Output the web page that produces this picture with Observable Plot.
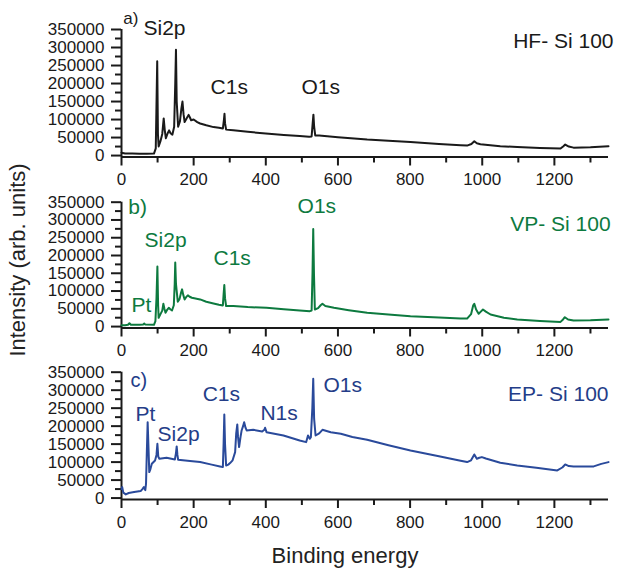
<!DOCTYPE html>
<html>
<head>
<meta charset="utf-8">
<script src="https://cdn.jsdelivr.net/npm/d3@7"></script>
<script src="https://cdn.jsdelivr.net/npm/@observablehq/plot@0.6"></script>
<style>
  body { margin: 0; background: #fff; font-family: "Liberation Sans", Arial, sans-serif; }
  #chart { position: relative; width: 617px; height: 569px; overflow: hidden; background: #fff; }
  .panel { position: absolute; left: 0; }
  .panel svg { overflow: visible; display: block; }
  #ylab { position: absolute; left: 18px; top: 260px; transform: translate(-50%, -50%) rotate(-90deg);
          white-space: nowrap; font-size: 22px; line-height: 1; color: #222; }
  #xlab { position: absolute; left: 345px; top: 545px; transform: translateX(-50%);
          white-space: nowrap; font-size: 22px; line-height: 1; color: #222; }
</style>
</head>
<body>
<div id="chart">
  <div id="ylab">Intensity (arb. units)</div>
  <div id="xlab">Binding energy</div>
</div>
<script>
// ---- data (binding energy eV, intensity counts) ----
const hfSpectrum = [
  [0, 8000], [10, 6000], [30, 5500], [50, 5000], [70, 5000], [90, 5500], [95, 20000], [99, 262000],
  [101, 60000], [103, 25000], [108, 40000], [113, 60000], [117, 103000], [120, 70000], [123, 48000],
  [128, 62000], [132, 70000], [136, 62000], [141, 58000], [146, 80000], [149, 200000], [151, 294000],
  [153, 150000], [157, 80000], [162, 95000], [166, 130000], [169, 150000], [172, 115000], [175, 93000],
  [180, 102000], [186, 113000], [190, 105000], [193, 98000], [200, 100000], [210, 93000], [218, 89000],
  [235, 84000], [255, 79000], [270, 77000], [281, 75000], [284, 100000], [285.5, 116000], [287, 90000],
  [290, 72000], [310, 70000], [350, 66000], [400, 61000], [450, 57000], [494, 54000], [520, 52000],
  [527, 53000], [530, 90000], [532, 113600], [534, 80000], [537, 56000], [548, 56000], [600, 51000],
  [681, 44300], [740, 41000], [801, 37700], [880, 32000], [940, 28500], [958, 27700], [970, 32000],
  [978, 39600], [985, 34000], [995, 31300], [1050, 26000], [1097, 23800], [1160, 21000], [1217, 19400],
  [1225, 26000], [1230, 30500], [1240, 25000], [1253, 22000], [1300, 23000], [1350, 25800]
];
const vpSpectrum = [
  [0, 4000], [10, 4000], [18, 5000], [22, 9400], [26, 5000], [50, 5000], [60, 6000], [63, 8500],
  [66, 5500], [90, 5000], [94, 15000], [97, 80000], [99.5, 169000], [101.5, 60000], [103, 24500],
  [108, 35000], [113, 45000], [116, 64000], [119, 50000], [122, 38700], [127, 48000], [131, 52800],
  [136, 48000], [140, 45300], [145, 60000], [147.5, 120000], [149, 180000], [151, 120000], [156, 69800],
  [161, 78000], [165, 95000], [168, 104700], [171, 90000], [175, 76400], [180, 84000], [184, 87800],
  [189, 84000], [195, 81100], [218, 76400], [235, 70000], [255, 65100], [270, 61500], [281, 59500],
  [283, 90000], [285, 117000], [287, 80000], [290, 57600], [310, 57600], [350, 55000], [402, 52800],
  [450, 49000], [494, 45300], [522, 43400], [527, 45300], [529.5, 150000], [531.5, 274600],
  [533.5, 150000], [536, 48100], [545, 52000], [552, 60000], [557, 64200], [565, 58000], [589, 52800],
  [630, 46000], [681, 38700], [740, 34000], [801, 29300], [880, 25500], [940, 23000], [958, 22600],
  [969, 35000], [975, 60000], [978, 64200], [983, 48000], [990, 35900], [996, 42000], [1002, 48100],
  [1010, 42000], [1023, 34000], [1060, 25000], [1097, 19800], [1160, 16000], [1217, 13200],
  [1224, 20000], [1229, 26400], [1238, 20000], [1253, 17000], [1300, 17500], [1350, 19800]
];
const epSpectrum = [
  [0, 25000], [2, 30500], [5, 15000], [12, 10200], [20, 14000], [35, 16700], [53, 19400], [58, 25000],
  [62, 30500], [66, 22000], [68, 40000], [70, 120000], [72.5, 211000], [74.5, 150000], [77, 72200],
  [80, 80000], [84, 95400], [93, 104600], [97, 120000], [99.5, 151000], [102, 115000], [105, 109300],
  [125, 112000], [148, 107400], [151, 125000], [153, 143500], [155, 120000], [157, 106500],
  [190, 103000], [218, 100000], [250, 93000], [273, 88000], [281, 86100], [283, 150000], [285, 232400],
  [287, 150000], [290, 90700], [296, 93000], [301, 97200], [308, 105000], [315, 127800], [318, 180000],
  [321, 204600], [323, 170000], [326, 141700], [330, 170000], [333, 188000], [337, 200000], [340, 211000],
  [344, 195000], [347, 188000], [365, 189800], [390, 185000], [396, 190000], [398, 195400], [402, 183300],
  [449, 174000], [494, 160200], [512, 155600], [517, 174000], [522, 164800], [525, 169400], [529, 250000],
  [531.5, 331500], [534, 220000], [538, 174000], [548, 180000], [557, 189800], [580, 183000], [608, 178700],
  [640, 170000], [681, 162000], [740, 147000], [801, 132400], [880, 116000], [940, 104000], [958, 100000],
  [969, 105000], [978, 121300], [985, 109300], [992, 112000], [999, 113900], [1010, 110000], [1050, 98000],
  [1097, 90700], [1150, 84000], [1208, 76800], [1222, 85000], [1230, 93500], [1240, 89000], [1253, 88000],
  [1309, 88000], [1330, 95000], [1350, 100000]
];

// peak / sample annotations: [text, energy, intensity]
const hfLabels = [["Si2p", 61, 336000], ["C1s", 247, 172000], ["O1s", 499, 172000]];
const vpLabels = [["Pt", 28, 42000], ["Si2p", 64, 225000], ["C1s", 255, 172000], ["O1s", 488, 321000]];
const epLabels = [["Pt", 39, 213000], ["Si2p", 100, 160000], ["C1s", 225, 271000], ["N1s", 385, 216000], ["O1s", 560, 294000]];
const sampleNames = ["HF- Si 100", "VP- Si 100", "EP- Si 100"];
const panelLetters = ["a)", "b)", "c)"];

const xTicks = [0, 200, 400, 600, 800, 1000, 1200];
const xMinorTicks = [100, 300, 500, 700, 900, 1100, 1300];
const yTicks = [0, 50000, 100000, 150000, 200000, 250000, 300000, 350000];
const yMinorTicks = [25000, 75000, 125000, 175000, 225000, 275000, 325000];
const xDomain = [0, 1350];
const yDomain = [-4000, 350000];

// ---- layout ----
const panels = [
  {spectrum: hfSpectrum, labels: hfLabels, name: sampleNames[0], letter: panelLetters[0], color: "#1a1a1a",
   textColor: "#1a1a1a", top: 0, marginTop: 29, axisY: 156.5, letterPos: [5, 364000], letterSize: 17, namePos: [1364, 300000]},
  {spectrum: vpSpectrum, labels: vpLabels, name: sampleNames[1], letter: panelLetters[1], color: "#0d7a3f",
   textColor: "#0d7a3f", top: 170, marginTop: 31.7, axisY: 157.5, letterPos: [19, 318000], letterSize: 21, namePos: [1356, 270000]},
  {spectrum: epSpectrum, labels: epLabels, name: sampleNames[2], letter: panelLetters[2], color: "#2a4a9b",
   textColor: "#243d88", top: 340, marginTop: 31.7, axisY: 159, letterPos: [25, 310000], letterSize: 20, namePos: [1350, 268600]}
];

const H = 170;
const chart = document.getElementById("chart");

for (const p of panels) {
  const labelRows = p.labels.map(([label, e, v]) => ({label, e, v}));
  const svg = Plot.plot({
    width: 617,
    height: H,
    marginLeft: 121,
    marginRight: 9,
    marginTop: p.marginTop,
    marginBottom: H - p.axisY,
    x: {domain: xDomain, label: null},
    y: {domain: yDomain, label: null},
    style: {fontFamily: "'Liberation Sans', Arial, sans-serif", fontSize: "17px", background: "transparent",
            overflow: "visible", color: "#1a1a1a"},
    marks: [
      Plot.axisY(yMinorTicks, {tickSize: 6, tickFormat: () => "", strokeWidth: 2, label: null}),
      Plot.axisY(yTicks, {tickSize: 10, tickPadding: 7, tickFormat: "d", strokeWidth: 2, fontSize: 17, label: null}),
      Plot.axisX(xMinorTicks, {tickSize: 6, tickFormat: () => "", strokeWidth: 2, label: null}),
      Plot.axisX(xTicks, {tickSize: 9, tickPadding: 7, tickFormat: "d", strokeWidth: 2, fontSize: 17, label: null}),
      Plot.ruleX([xDomain[0]], {strokeWidth: 2}),
      Plot.ruleY([yDomain[0]], {strokeWidth: 2}),
      Plot.line(p.spectrum, {x: d => d[0], y: d => d[1], stroke: p.color, strokeWidth: 2, strokeLinejoin: "round"}),
      Plot.text(labelRows, {x: "e", y: "v", text: "label", fill: p.textColor, fontSize: 21,
                            textAnchor: "start", lineAnchor: "bottom"}),
      Plot.text([{t: p.name, e: p.namePos[0], v: p.namePos[1]}], {x: "e", y: "v", text: "t", fill: p.textColor,
                            fontSize: 21, textAnchor: "end", lineAnchor: "bottom"}),
      Plot.text([{t: p.letter, e: p.letterPos[0], v: p.letterPos[1]}], {x: "e", y: "v", text: "t", fill: p.textColor,
                            fontSize: p.letterSize, textAnchor: "start", lineAnchor: "bottom"})
    ]
  });
  const wrap = document.createElement("div");
  wrap.className = "panel";
  wrap.style.top = p.top + "px";
  wrap.appendChild(svg);
  chart.appendChild(wrap);
}
</script>
</body>
</html>
